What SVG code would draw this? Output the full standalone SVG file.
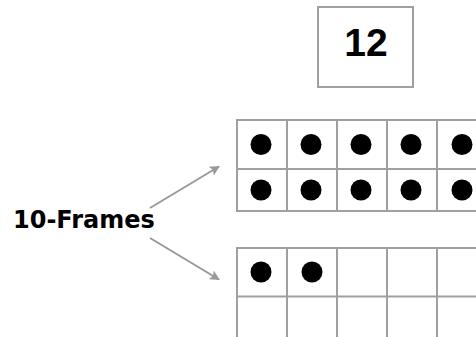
<svg xmlns="http://www.w3.org/2000/svg" width="476" height="337" viewBox="0 0 476 337">
<style>
.grid{fill:#fff;stroke:#a0a0a0;stroke-width:2}
.dot{fill:#000}
.conn{stroke:#999;stroke-width:2;fill:none}
.lbl{font-family:"DejaVu Sans",sans-serif;font-weight:bold;fill:#000}
</style>
<defs>
<marker id="ah" viewBox="0 0 10 10" refX="9" refY="5" markerWidth="5" markerHeight="5" orient="auto" markerUnits="strokeWidth">
<path d="M0,0 L10,5 L0,10 L2,5 z" fill="#999"/>
</marker>
</defs>
<rect width="476" height="337" fill="#fff"/>
<g id="number-box">
<rect class="grid" x="318" y="7" width="95" height="80"/>
<text x="366" y="56" text-anchor="middle" font-family="Liberation Sans, Arial, sans-serif" font-weight="bold" font-size="39">12</text>
</g>
<g id="frame-top">
<rect class="grid" x="237" y="120" width="250" height="91"/>
<path class="grid" d="M237,169H487M287,120V211M337,120V211M387,120V211M437,120V211"/>
<circle class="dot" cx="261" cy="144.5" r="10.5"/>
<circle class="dot" cx="311" cy="144.5" r="10.5"/>
<circle class="dot" cx="361" cy="144.5" r="10.5"/>
<circle class="dot" cx="411" cy="144.5" r="10.5"/>
<circle class="dot" cx="462" cy="144.5" r="10.5"/>
<circle class="dot" cx="261" cy="190" r="10.5"/>
<circle class="dot" cx="311" cy="190" r="10.5"/>
<circle class="dot" cx="361" cy="190" r="10.5"/>
<circle class="dot" cx="411" cy="190" r="10.5"/>
<circle class="dot" cx="462" cy="190" r="10.5"/>
</g>
<g id="frame-bottom">
<rect class="grid" x="237" y="248" width="250" height="98"/>
<path class="grid" d="M237,296.5H487M287,248V346M337,248V346M387,248V346M437,248V346"/>
<circle class="dot" cx="261" cy="272" r="10.5"/>
<circle class="dot" cx="312" cy="272" r="10.5"/>
</g>
<g id="label">
<text class="lbl" x="13" y="228" font-size="24">10-Frames</text>
</g>
<g id="connectors">
<line class="conn" x1="150" y1="208" x2="219" y2="166.5" marker-end="url(#ah)"/>
<line class="conn" x1="150" y1="238" x2="219" y2="279.5" marker-end="url(#ah)"/>
</g>
</svg>
